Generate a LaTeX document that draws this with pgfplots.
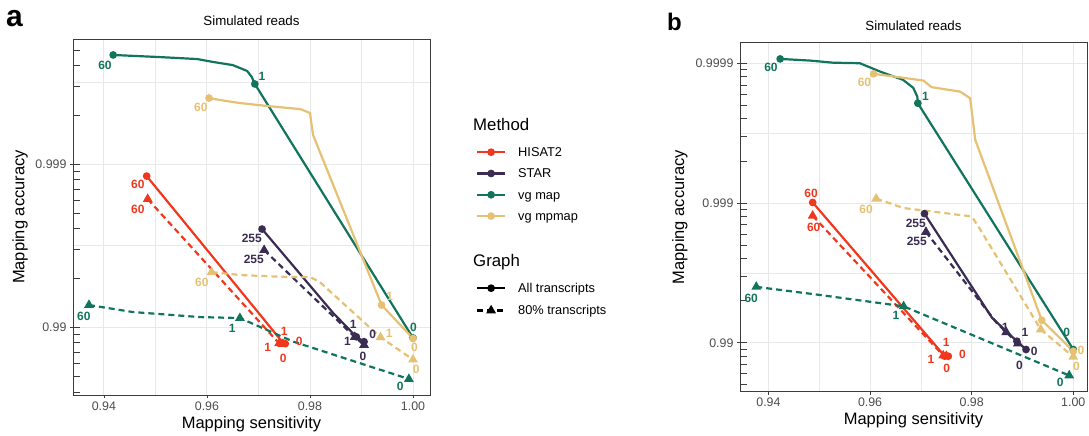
\documentclass[border=0pt]{standalone}
\usepackage{pgfplots}
\pgfplotsset{compat=1.18}
\usepackage{fontspec}
\setmainfont{Liberation Sans}
\definecolor{cHisat}{RGB}{240,56,30}
\definecolor{cStar}{RGB}{58,44,82}
\definecolor{cMap}{RGB}{17,116,92}
\definecolor{cMp}{RGB}{230,193,115}
\definecolor{framec}{RGB}{60,60,60}
\definecolor{ticklab}{RGB}{77,77,77}
\definecolor{gridc}{RGB}{232,232,232}
\tikzset{lab/.style={font=\fontsize{12}{14}\selectfont\bfseries, inner sep=0pt}}
\pgfplotsset{
  panel/.style={
    scale only axis, anchor=south west, clip=false,
    xtick={0.94,0.96,0.98,1.00}, xticklabels={0.94,0.96,0.98,1.00},
    minor xtick={0.95,0.97,0.99},
    grid=both, tick pos=left,
    major grid style={draw=gridc, line width=0.9pt},
    minor grid style={draw=gridc, line width=0.6pt},
    tick align=outside, major tick length=3pt, minor tick length=0pt,
    axis line style={draw=framec, line width=0.9pt},
    every tick/.style={draw=framec, line width=0.8pt},
    ticklabel style={font=\fontsize{12.4}{14}\selectfont, text=ticklab},
    xlabel={Mapping sensitivity}, ylabel={Mapping accuracy},
    label style={font=\fontsize{16.5}{19}\selectfont},
    title={Simulated reads},
    title style={font=\fontsize{13.3}{16}\selectfont, anchor=center},
    extra y tick labels={},
    extra y tick style={grid=none, tick align=inside, major tick length=7pt},
  },
  sol/.style={line width=2.2pt},
  das/.style={line width=2.2pt, dash pattern=on 6pt off 4pt},
  cm/.style={mark=*, mark size=2.7pt, mark options={solid}},
  tm/.style={mark=triangle*, mark size=3.5pt, mark options={solid}},
  legbox/.style={hide axis, scale only axis, width=10pt, height=10pt, anchor=north west,
    xmin=0, xmax=1, ymin=0, ymax=1,
    legend style={at={(0,1)}, anchor=north west, draw=none, fill=none, inner sep=0pt, outer sep=0pt,
      column sep=12pt, font=\fontsize{12.8}{15}\selectfont,
      nodes={inner sep=0pt, text height=11pt, text depth=2pt}},
    legend cell align=left,
    legend image code/.code={\draw[mark repeat=2,mark phase=2,##1] plot coordinates {(0pt,0pt)(14pt,0pt)(28pt,0pt)};}
  },
}
\begin{document}
\begin{tikzpicture}
\useasboundingbox (0,0) rectangle (1089pt,436pt);
\node[anchor=base west, inner sep=0pt, font=\fontsize{30}{30}\selectfont\bfseries] at (6pt,409pt) {a};
\node[anchor=base west, inner sep=0pt, font=\fontsize{24}{24}\selectfont\bfseries] at (667pt,405pt) {b};

% ---------------- Panel a ----------------
\begin{axis}[panel, at={(73pt,41pt)}, width=357pt, height=356pt,
  xmin=0.934, xmax=1.0033, ymin=1.583, ymax=3.767,
  ytick={2,3}, yticklabels={0.99,0.999}, minor ytick={2.5,3.5},
  extra y ticks={1.602,1.699,1.778,1.845,1.903,1.954,2,2.301,2.477,2.602,2.699,2.778,2.845,2.903,2.954,3,3.301,3.477,3.602,3.699},
  xlabel style={at={(axis description cs:0.5,-0.0815)}, anchor=center},
  ylabel style={at={(axis description cs:-0.1485,0.5)}, anchor=center},
  title style={at={(axis description cs:0.5,1.0337)}},
]
% HISAT2
\addplot[cHisat, das, tm] coordinates {(0.9485,2.785) (0.9740,1.900) (0.9746,1.895)};
\addplot[cHisat, sol, cm] coordinates {(0.9483,2.926) (0.9748,1.902) (0.9752,1.898)};
% STAR
\addplot[cStar, das, tm] coordinates {(0.9711,2.472) (0.9887,1.939) (0.9905,1.890)};
\addplot[cStar, sol, cm, mark indices={1,3,4}] coordinates {(0.9707,2.601) (0.9845,2.086) (0.9890,1.940) (0.9905,1.910)};
% vg map
\addplot[cMap, das, tm, mark indices={1,4,6}] coordinates {(0.9371,2.135) (0.9456,2.092) (0.9586,2.061) (0.9664,2.055) (0.9768,1.910) (0.9992,1.681)};
\addplot[cMap, sol, cm, mark indices={1,8,9}] coordinates {(0.9418,3.669) (0.9509,3.656) (0.9581,3.644) (0.9612,3.626) (0.9650,3.607) (0.9678,3.571) (0.9687,3.534) (0.9693,3.491) (1.0000,1.933)};
% vg mpmap
\addplot[cMp, das, tm, mark indices={1,6,7}] coordinates {(0.9609,2.337) (0.9664,2.319) (0.9755,2.307) (0.9800,2.307) (0.9819,2.276) (0.9937,1.937) (1.0000,1.800)};
\addplot[cMp, sol, cm, mark indices={1,8,9}] coordinates {(0.9604,3.405) (0.9625,3.393) (0.9664,3.374) (0.9717,3.356) (0.9781,3.337) (0.9800,3.313) (0.9806,3.178) (0.9939,2.135) (1.0000,1.930)};
% labels
\node[lab, text=cMap] at (axis cs:0.9402,3.607) {60};
\node[lab, text=cMap] at (axis cs:0.9707,3.540) {1};
\node[lab, text=cMap] at (axis cs:1.0001,1.996) {0};
\node[lab, text=cMp] at (axis cs:0.9588,3.350) {60};
\node[lab, text=cMp] at (axis cs:0.9955,2.190) {1};
\node[lab, text=cMp] at (axis cs:1.0003,1.873) {0};
\node[lab, text=cHisat] at (axis cs:0.9466,2.877) {60};
\node[lab, text=cHisat] at (axis cs:0.9750,1.976) {1};
\node[lab, text=cHisat] at (axis cs:0.9779,1.914) {0};
\node[lab, text=cHisat] at (axis cs:0.9466,2.724) {60};
\node[lab, text=cHisat] at (axis cs:0.9718,1.877) {1};
\node[lab, text=cHisat] at (axis cs:0.9748,1.810) {0};
\node[lab, text=cStar] at (axis cs:0.9687,2.546) {255};
\node[lab, text=cStar] at (axis cs:0.9884,2.017) {1};
\node[lab, text=cStar] at (axis cs:0.9922,1.957) {0};
\node[lab, text=cStar] at (axis cs:0.9691,2.417) {255};
\node[lab, text=cStar] at (axis cs:0.9873,1.910) {1};
\node[lab, text=cStar] at (axis cs:0.9903,1.818) {0};
\node[lab, text=cMp] at (axis cs:0.9590,2.276) {60};
\node[lab, text=cMp] at (axis cs:0.9954,1.961) {1};
\node[lab, text=cMp] at (axis cs:1.0006,1.740) {0};
\node[lab, text=cMap] at (axis cs:0.9361,2.067) {60};
\node[lab, text=cMap] at (axis cs:0.9649,1.994) {1};
\node[lab, text=cMap] at (axis cs:0.9975,1.634) {0};
\end{axis}

% ---------------- Panel b ----------------
\begin{axis}[panel, at={(740pt,44.3pt)}, width=347pt, height=349pt,
  xmin=0.9344, xmax=1.0027, ymin=1.65, ymax=4.147,
  ytick={2,3,4}, yticklabels={0.99,0.999,0.9999}, minor ytick={2.5,3.5},
  extra y ticks={1.699,1.778,1.845,1.903,1.954,2,2.301,2.477,2.602,2.699,2.778,2.845,2.903,2.954,3,3.301,3.477,3.602,3.699,3.778,3.845,3.903,3.954,4},
  xlabel style={at={(axis description cs:0.5,-0.081)}, anchor=center},
  ylabel style={at={(axis description cs:-0.173,0.5)}, anchor=center},
  title style={at={(axis description cs:0.5,1.0315)}},
]
\addplot[cHisat, das, tm] coordinates {(0.9487,2.909) (0.9744,1.909) (0.9750,1.905)};
\addplot[cHisat, sol, cm] coordinates {(0.9487,3.004) (0.9747,1.904) (0.9754,1.904)};
\addplot[cStar, das, tm, mark indices={1,3,4}] coordinates {(0.9710,2.793) (0.9849,2.143) (0.9868,2.076) (0.9891,1.995)};
\addplot[cStar, sol, cm, mark indices={1,3,4}] coordinates {(0.9707,2.924) (0.9840,2.179) (0.9889,2.011) (0.9907,1.952)};
\addplot[cMap, das, tm, mark indices={1,3,4}] coordinates {(0.9376,2.400) (0.9495,2.345) (0.9666,2.261) (0.9992,1.766)};
\addplot[cMap, sol, cm, mark indices={1,9,10}] coordinates {(0.9423,4.031) (0.9482,4.019) (0.9527,4.004) (0.9580,4.000) (0.9620,3.940) (0.9665,3.881) (0.9685,3.824) (0.9693,3.761) (0.9694,3.714) (1.0000,1.952)};
\addplot[cMp, das, tm, mark indices={1,5,6}] coordinates {(0.9612,3.031) (0.9666,2.964) (0.9800,2.904) (0.9813,2.833) (0.9936,2.095) (1.0000,1.900)};
\addplot[cMp, sol, cm, mark indices={1,8,9}] coordinates {(0.9607,3.924) (0.9639,3.909) (0.9705,3.876) (0.9721,3.829) (0.9777,3.797) (0.9797,3.750) (0.9807,3.452) (0.9938,2.161) (1.0000,1.940)};
\node[lab, text=cMap] at (axis cs:0.9405,3.969) {60};
\node[lab, text=cMap] at (axis cs:0.9709,3.766) {1};
\node[lab, text=cMap] at (axis cs:0.9987,2.076) {0};
\node[lab, text=cMp] at (axis cs:0.9589,3.861) {60};
\node[lab, text=cMp] at (axis cs:1.0015,1.947) {0};
\node[lab, text=cHisat] at (axis cs:0.9484,3.071) {60};
\node[lab, text=cHisat] at (axis cs:0.9750,2.000) {1};
\node[lab, text=cHisat] at (axis cs:0.9782,1.916) {0};
\node[lab, text=cHisat] at (axis cs:0.9489,2.829) {60};
\node[lab, text=cHisat] at (axis cs:0.9720,1.881) {1};
\node[lab, text=cHisat] at (axis cs:0.9751,1.814) {0};
\node[lab, text=cMp] at (axis cs:0.9592,2.952) {60};
\node[lab, text=cMp] at (axis cs:1.0006,1.829) {0};
\node[lab, text=cStar] at (axis cs:0.9690,2.852) {255};
\node[lab, text=cStar] at (axis cs:0.9905,2.071) {1};
\node[lab, text=cStar] at (axis cs:0.9923,1.940) {0};
\node[lab, text=cStar] at (axis cs:0.9692,2.726) {255};
\node[lab, text=cStar] at (axis cs:0.9866,2.107) {1};
\node[lab, text=cStar] at (axis cs:0.9894,1.838) {0};
\node[lab, text=cMap] at (axis cs:0.9366,2.321) {60};
\node[lab, text=cMap] at (axis cs:0.9651,2.195) {1};
\node[lab, text=cMap] at (axis cs:0.9974,1.719) {0};
\end{axis}

% ---------------- Legends ----------------
\node[anchor=base west, inner sep=0pt, font=\fontsize{16.8}{19}\selectfont] at (473pt,305.3pt) {Method};
\begin{axis}[legbox, at={(476pt,290.3pt)}, legend style={row sep=8.3pt}]
\addlegendimage{cHisat, line width=2.2pt, mark=*, mark size=2.7pt}
\addlegendentry{HISAT2}
\addlegendimage{cStar, line width=2.2pt, mark=*, mark size=2.7pt}
\addlegendentry{STAR}
\addlegendimage{cMap, line width=2.2pt, mark=*, mark size=2.7pt}
\addlegendentry{vg map}
\addlegendimage{cMp, line width=2.2pt, mark=*, mark size=2.7pt}
\addlegendentry{vg mpmap}
\end{axis}
\node[anchor=base west, inner sep=0pt, font=\fontsize{16.8}{19}\selectfont] at (473pt,169.3pt) {Graph};
\begin{axis}[legbox, at={(476pt,154.3pt)}, legend style={row sep=9.3pt}]
\addlegendimage{black, line width=2.2pt, mark=*, mark size=2.7pt}
\addlegendentry{All transcripts}
\addlegendimage{black, line width=2.2pt, dash pattern=on 6pt off 4pt, mark=triangle*, mark size=3.5pt, mark options={solid}}
\addlegendentry{80\% transcripts}
\end{axis}
\end{tikzpicture}
\end{document}
